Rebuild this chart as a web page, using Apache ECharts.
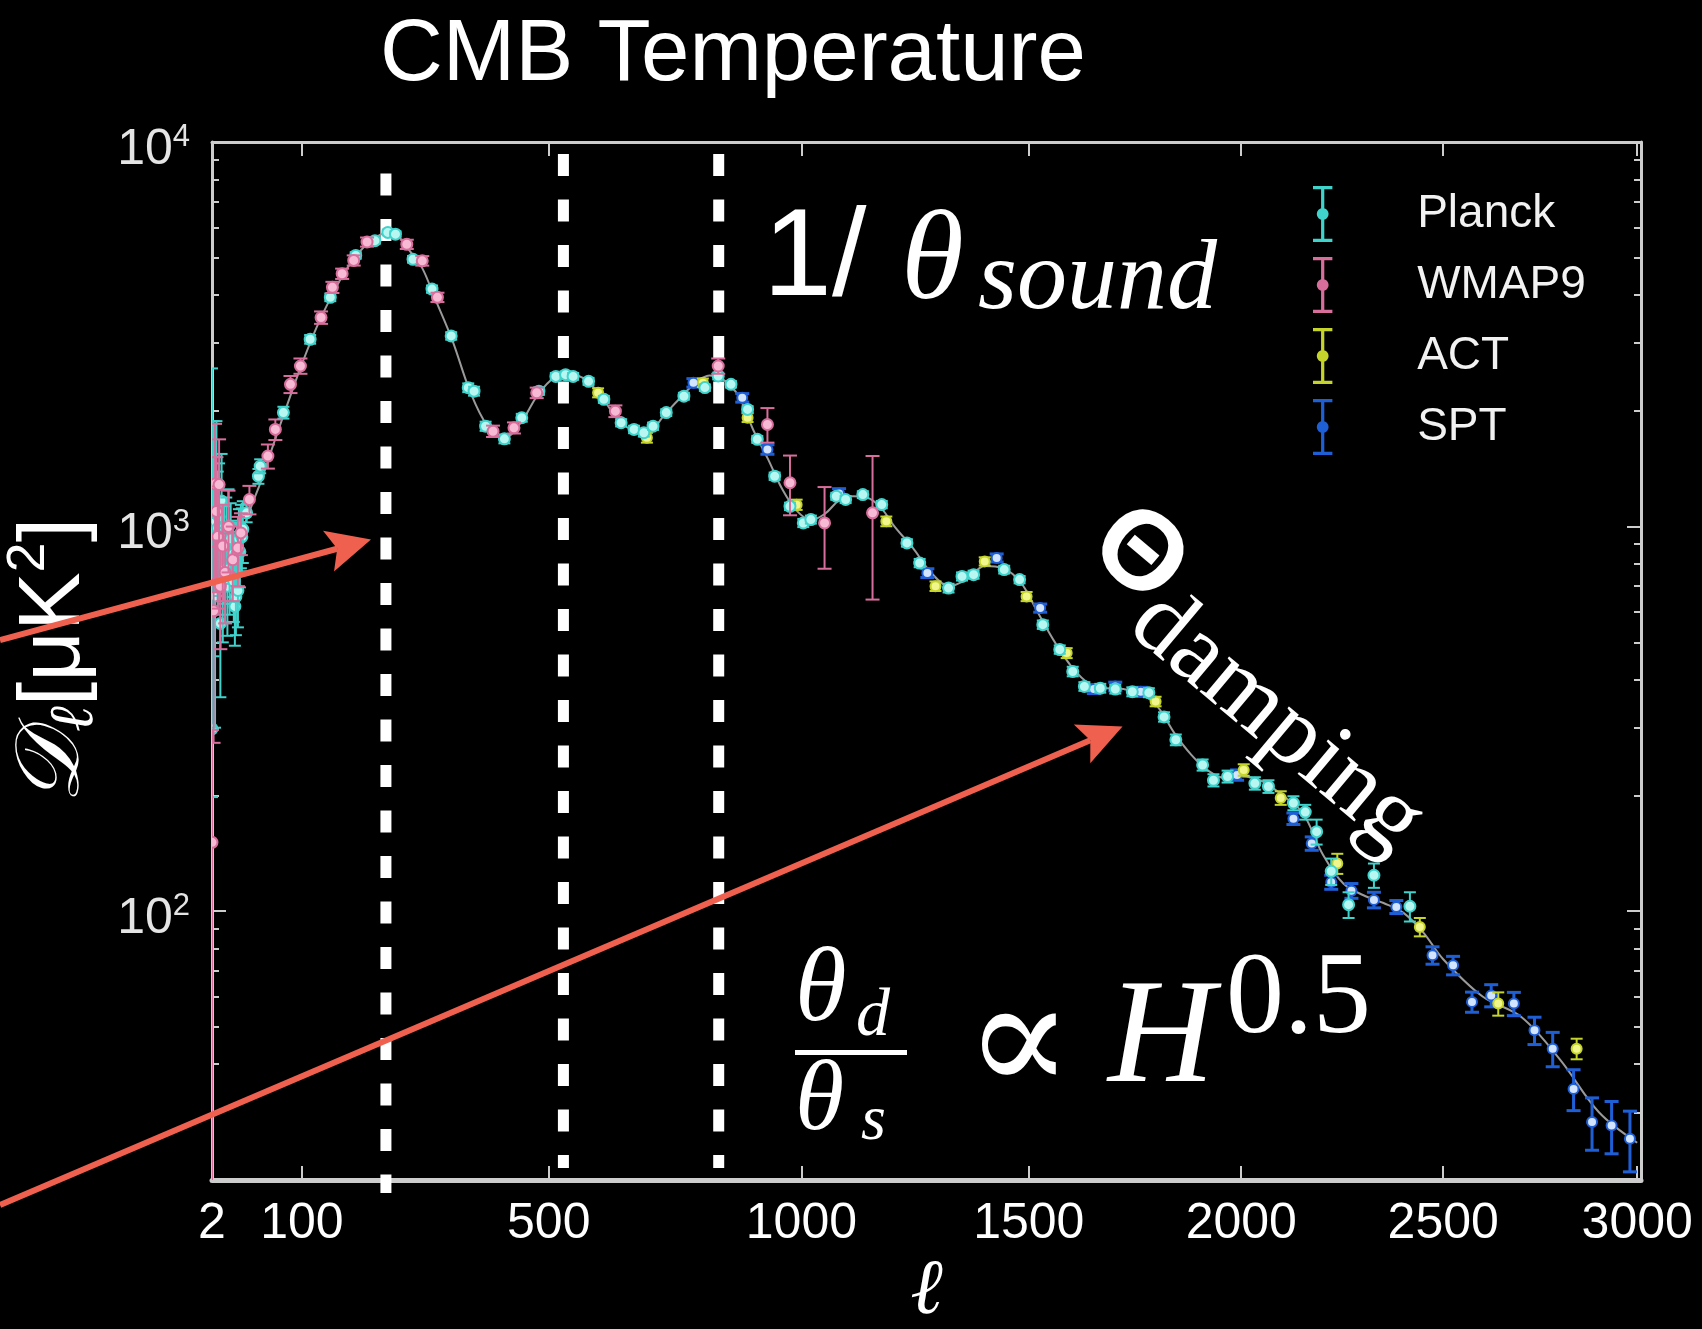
<!DOCTYPE html>
<html>
<head>
<meta charset="utf-8">
<title>CMB Temperature</title>
<script src="https://cdn.jsdelivr.net/npm/echarts@6/dist/echarts.min.js"></script>
<style>
  html, body { margin: 0; padding: 0; background: #000; }
  #chart { width: 1702px; height: 1329px; }
</style>
</head>
<body>
<div id="chart"></div>
<script>
// ---------------------------------------------------------------------------
// Data: multipole ℓ and band power D_ℓ [μK²], with 1σ errors
// ---------------------------------------------------------------------------
const planckEll = [2, 3, 4, 5, 6, 7, 8, 9, 10, 11, 12, 13, 14, 15, 16, 17, 18, 19, 20, 21, 22, 23, 24, 25, 26, 27, 28, 29,
  33, 46, 48, 76, 111, 139, 176, 205, 225, 237, 265, 296, 328, 357, 367, 387, 420, 451, 482, 513, 531, 545, 574, 603, 636,
  661, 680, 698, 724, 759, 801, 828, 854, 888, 908, 944, 976, 1004, 1020, 1074, 1094, 1131, 1172, 1227, 1255, 1319, 1349,
  1375, 1444, 1479, 1532, 1571, 1601, 1628, 1665, 1700, 1740, 1779, 1815, 1843, 1907, 1933, 1967, 2033, 2066, 2127, 2156,
  2184, 2220, 2263, 2326, 2416];
const planckD = [298, 1020, 660, 1290, 990, 1060, 560, 1165, 720, 880, 777, 940, 700, 1000, 780, 930, 820, 846, 720, 620, 657, 850, 682, 930, 860, 959, 940, 984,
  1086, 1352, 1436, 1979, 3069, 3946, 5072, 5540, 5820, 5760, 4955, 4145, 3132, 2297, 2250, 1824, 1691, 1919, 2250, 2458, 2483, 2458, 2386, 2142, 1862,
  1789, 1754, 1824, 1979, 2183, 2298, 2464, 2344, 2017, 1686, 1352, 1129, 1022, 1043, 1199, 1176, 1211, 1141, 907, 804, 692, 742,
  750, 773, 728, 556, 479, 420, 384, 380, 378, 372, 370, 320, 279, 240, 219, 224, 215, 211, 191, 181,
  161, 127, 104, 124, 103];
const planckErrLo = [100, 560, 360, 590, 400, 400, 200, 380, 220, 250, 215, 250, 180, 250, 190, 220, 190, 190, 155, 130, 135, 170, 135, 180, 165, 180, 175, 180,
  60, 60, 60, 70, 80, 90, 100, 100, 100, 100, 100, 90, 70, 60, 60, 50, 45, 45, 50, 50, 50, 50, 50, 45, 40,
  40, 40, 40, 40, 45, 45, 50, 45, 40, 35, 30, 25, 25, 25, 25, 25, 25, 25, 20, 20, 18, 18,
  18, 18, 16, 14, 12, 12, 10, 10, 10, 10, 10, 9, 9, 8, 8, 8, 8, 8, 8, 8,
  12, 10, 8, 9, 9];
const planckErrHi = [2280, 860, 860, 590, 400, 400, 200, 380, 220, 250, 215, 250, 180, 250, 190, 220, 190, 190, 155, 130, 135, 170, 135, 180, 165, 180, 175, 180,
  60, 60, 60, 70, 80, 90, 100, 100, 100, 100, 100, 90, 70, 60, 60, 50, 45, 45, 50, 50, 50, 50, 50, 45, 40,
  40, 40, 40, 40, 45, 45, 50, 45, 40, 35, 30, 25, 25, 25, 25, 25, 25, 25, 20, 20, 18, 18,
  18, 18, 16, 14, 12, 12, 10, 10, 10, 10, 10, 9, 9, 8, 8, 8, 8, 8, 8, 8,
  12, 10, 8, 9, 9];

const wmapEll = [2, 3, 4, 5, 6, 7, 8, 10, 12, 15, 19, 24, 27, 36, 57, 66, 85, 98, 126, 142, 156, 173, 193, 255, 280, 305, 400, 437, 478, 625, 828, 929, 976, 1049, 1152];
const wmapD = [151, 604, 1290, 1095, 942, 1286, 700, 890, 760, 1000, 820, 880, 963, 1176, 1525, 1789, 2344, 2616, 3496, 4189, 4545, 4922, 5495, 5420, 4910, 3946, 1770, 1806, 2228, 1996, 2616, 1843, 1300, 1022, 1086];
const wmapErr = [145, 330, 560, 420, 330, 400, 220, 250, 200, 240, 180, 180, 120, 100, 110, 110, 120, 120, 130, 140, 140, 150, 150, 150, 140, 110, 60, 60, 70, 70, 120, 190, 230, 245, 440];

const actEll = [592, 686, 797, 888, 990, 1182, 1290, 1400, 1495, 1587, 1795, 2006, 2096, 2235, 2441, 2640, 2842];
const actD = [2228, 1703, 2366, 1920, 1140, 1032, 700, 812, 658, 469, 351, 233, 197, 133, 91, 57.5, 43.9];
const actErr = [60, 50, 60, 50, 35, 30, 20, 20, 18, 14, 10, 8, 8, 8, 5, 4, 2.7];

const sptEll = [778, 877, 929, 1080, 1272, 1427, 1526, 1650, 1700, 1760, 1990, 2127, 2172, 2220, 2270, 2326, 2382, 2473, 2525, 2573, 2622, 2680, 2733, 2780, 2834, 2882, 2933, 2981];
const sptD = [2365, 2162, 1587, 1220, 757, 829, 614, 378, 384, 372, 226, 174, 150, 119, 113, 107, 102.6, 76.8, 72.3, 58.1, 60.4, 57.5, 49, 43.9, 34.5, 28.3, 27.7, 25.6];
const sptErr = [60, 55, 45, 35, 20, 20, 15, 10, 10, 10, 7, 6, 6, 5, 5, 5, 4, 4, 4, 3.5, 4, 4, 4, 4.5, 4.2, 4.4, 4.3, 4.6];

// best-fit model spectrum
const theoryEll = [2, 5, 10, 20, 30, 40, 50, 60, 70, 80, 90, 100, 120, 140, 160, 180, 200, 220, 240, 260, 280, 300, 330, 360, 390,
  420, 450, 480, 510, 540, 570, 600, 630, 660, 690, 720, 750, 780, 810, 840, 870, 900, 930, 960, 990, 1020, 1050, 1080, 1110,
  1140, 1170, 1200, 1240, 1280, 1320, 1360, 1400, 1440, 1480, 1520, 1560, 1600, 1640, 1680, 1720, 1760, 1800, 1840, 1880,
  1920, 1960, 2000, 2050, 2100, 2150, 2200, 2250, 2300, 2350, 2400, 2450, 2500, 2600, 2700, 2800, 2900, 3000];
const theoryD = [1020, 900, 820, 860, 1000, 1160, 1330, 1550, 1790, 2050, 2340, 2650, 3300, 3950, 4600, 5150, 5550, 5780, 5700, 5200, 4700, 3950, 3050, 2250, 1830,
  1700, 1870, 2200, 2440, 2490, 2400, 2160, 1900, 1780, 1770, 1950, 2150, 2350, 2470, 2400, 2180, 1780, 1500, 1250, 1100, 1040, 1080, 1170, 1200,
  1190, 1120, 1000, 880, 760, 700, 730, 790, 780, 720, 600, 500, 430, 390, 380, 378, 368, 340, 290, 255,
  232, 222, 224, 218, 200, 180, 140, 118, 110, 105, 99, 88, 75, 60, 53, 41, 30, 25];

// acoustic peak positions marked with dashed verticals
const peakEll = [222, 527, 829];

// axis ranges and ticks
const ELL_RANGE = [2, 3010];
const D_RANGE = [20, 10000];
const xTickEll = [2, 100, 500, 1000, 1500, 2000, 2500, 3000];
const yMajorTicks = [100, 1000, 10000];
const yMinorTicks = [20, 30, 40, 50, 60, 70, 80, 90, 200, 300, 400, 500, 600, 700, 800, 900, 2000, 3000, 4000, 5000, 6000, 7000, 8000, 9000];

// ---------------------------------------------------------------------------
// Scales: ℓ is drawn on an ℓ^0.8 stretch, D_ℓ on log10
// ---------------------------------------------------------------------------
const ELL_POWER = 0.8;
const ellAxis = l => Math.pow(l, ELL_POWER);
const axisEll = v => Math.pow(v, 1 / ELL_POWER);
const lg = d => Math.log10(d);
const X_MIN = ellAxis(ELL_RANGE[0]);
const X_MAX = ellAxis(ELL_RANGE[1]);
const Y_MIN = lg(D_RANGE[0]);
const Y_MAX = lg(D_RANGE[1]);

const SANS = "'Liberation Sans', Arial, Helvetica, sans-serif";
const SERIF = "'Liberation Serif', 'DejaVu Serif', 'Times New Roman', serif";
const AXIS_GREY = '#cccccc';
const ARROW_RED = '#f0604f';

const STYLES = {
  Planck: { color: '#3fd3cc', fill: '#b8f6f2', r: 5.5, ring: 2, bar: 2, cap: 12 },
  WMAP9:  { color: '#d86e9c', fill: '#f6bad4', r: 5.5, ring: 2, bar: 2, cap: 14 },
  ACT:    { color: '#c4d42a', fill: '#f0f68c', r: 5, ring: 2, bar: 2, cap: 12 },
  SPT:    { color: '#1f5fd6', fill: '#d2e4ff', r: 5, ring: 2, bar: 3, cap: 14 }
};

function errorPoints(ells, ds, lo, hi) {
  return ells.map((l, i) => {
    const low = ds[i] - lo[i];
    return [ellAxis(l), lg(ds[i]), low > 0 ? lg(low) : Y_MIN - 1, lg(ds[i] + hi[i])];
  });
}

function errorBarRenderer(st) {
  return function (params, api) {
    const x = api.value(0);
    const rawLo = api.value(2), rawHi = api.value(3);
    const c = api.coord([x, api.value(1)]);
    const lo = api.coord([x, Math.max(rawLo, Y_MIN)]);
    const hi = api.coord([x, Math.min(rawHi, Y_MAX)]);
    const h = st.cap / 2;
    const children = [
      { type: 'line', shape: { x1: c[0], y1: lo[1], x2: c[0], y2: hi[1] }, style: { stroke: st.color, lineWidth: st.bar } }
    ];
    if (rawLo >= Y_MIN) {
      children.push({ type: 'line', shape: { x1: c[0] - h, y1: lo[1], x2: c[0] + h, y2: lo[1] }, style: { stroke: st.color, lineWidth: st.bar } });
    }
    if (rawHi <= Y_MAX) {
      children.push({ type: 'line', shape: { x1: c[0] - h, y1: hi[1], x2: c[0] + h, y2: hi[1] }, style: { stroke: st.color, lineWidth: st.bar } });
    }
    children.push({ type: 'circle', shape: { cx: c[0], cy: c[1], r: st.r }, style: { fill: st.fill, stroke: st.color, lineWidth: st.ring } });
    return { type: 'group', children };
  };
}

function dataSeries(name, points, z) {
  return {
    name, type: 'custom', coordinateSystem: 'cartesian2d', z,
    itemStyle: { color: STYLES[name].color },
    encode: { x: 0, y: 1 },
    renderItem: errorBarRenderer(STYLES[name]),
    data: points,
    clip: true
  };
}

// dashed peak markers: the first one runs a little past the bottom axis
const peakSpans = [[8281, 18.5], [9311, 21.5], [9311, 21.5]];
const peakSeries = peakEll.map((l, i) => ({
  type: 'line', z: 1, silent: true, clip: false, symbol: 'none', animation: false,
  lineStyle: { color: '#ffffff', width: 11, type: [22, 23.5], cap: 'butt' },
  data: [[ellAxis(l), lg(peakSpans[i][0])], [ellAxis(l), lg(peakSpans[i][1])]]
}));

const LEGEND_ICON = 'path://M0,0H18V3H0Z M7.5,0H10.5V52H7.5Z M0,49H18V52H0Z M9,20.5A5.5,5.5 0 1 1 8.99,20.5Z';

function xAxisCfg(position, withLabels) {
  return {
    type: 'value', position, min: X_MIN, max: X_MAX, gridIndex: 0,
    axisLine: { show: true, onZero: false, lineStyle: { color: AXIS_GREY, width: position === 'bottom' ? 5 : 3 } },
    axisTick: { show: true, inside: true, length: 14, customValues: xTickEll.map(ellAxis), lineStyle: { color: AXIS_GREY, width: 2 } },
    axisLabel: withLabels ? {
      show: true, customValues: xTickEll.map(ellAxis),
      formatter: v => String(Math.round(axisEll(v))),
      color: '#ffffff', fontSize: 50, fontFamily: SANS, margin: 19
    } : { show: false },
    splitLine: { show: false },
    name: withLabels ? 'ℓ' : '', nameLocation: 'middle', nameGap: 65,
    nameTextStyle: { color: '#ffffff', fontSize: 78, fontStyle: 'italic', fontFamily: SERIF }
  };
}

function yAxisCfg(position, major, withLabels) {
  const cfg = {
    type: 'value', position, min: Y_MIN, max: Y_MAX, gridIndex: 0,
    axisLine: { show: major, onZero: false, lineStyle: { color: AXIS_GREY, width: 3 } },
    axisTick: { show: true, inside: true, length: major ? 14 : 7, customValues: (major ? yMajorTicks : yMinorTicks).map(lg), lineStyle: { color: AXIS_GREY, width: 2 } },
    axisLabel: { show: false },
    splitLine: { show: false }
  };
  if (withLabels) {
    cfg.axisLabel = {
      show: true, customValues: yMajorTicks.map(lg), margin: 22,
      padding: [16, 0, 0, 0],
      formatter: v => '{b|10}{s|' + Math.round(v) + '}',
      rich: {
        b: { fontSize: 50, fontFamily: SANS, color: '#e4e4e4', lineHeight: 56 },
        s: { fontSize: 31, fontFamily: SANS, color: '#e4e4e4', lineHeight: 30, verticalAlign: 'top' }
      }
    };
    cfg.name = '{d|𝒟}{l|ℓ}{u|[μK}{p|2}{u|]}';
    cfg.nameLocation = 'middle';
    cfg.nameRotate = 90;
    cfg.nameGap = 77;
    cfg.nameTextStyle = {
      color: '#ffffff',
      rich: {
        d: { fontSize: 90, fontFamily: SERIF, fontStyle: 'italic', color: '#ffffff', lineHeight: 104 },
        l: { fontSize: 62, fontFamily: SERIF, fontStyle: 'italic', color: '#ffffff', lineHeight: 54, verticalAlign: 'bottom' },
        u: { fontSize: 88, fontFamily: SANS, color: '#ffffff', lineHeight: 104 },
        p: { fontSize: 54, fontFamily: SANS, color: '#ffffff', lineHeight: 54, verticalAlign: 'top' }
      }
    };
  }
  return cfg;
}

const chart = echarts.init(document.getElementById('chart'), null, { renderer: 'canvas' });

const option = {
  backgroundColor: '#000000',
  animation: false,
  title: {
    text: 'CMB Temperature', left: 375, top: 8,
    textStyle: { color: '#ffffff', fontSize: 87, fontWeight: 'normal', fontFamily: SANS }
  },
  grid: { left: 212, right: 61, top: 142, bottom: 149, containLabel: false, outerBoundsMode: 'none' },
  xAxis: [xAxisCfg('bottom', true), xAxisCfg('top', false)],
  yAxis: [
    yAxisCfg('left', true, true),
    yAxisCfg('left', false, false),
    yAxisCfg('right', true, false),
    yAxisCfg('right', false, false)
  ],
  legend: {
    data: ['Planck', 'WMAP9', 'ACT', 'SPT'],
    orient: 'vertical', left: 1308, top: 181,
    itemWidth: 179, itemHeight: 56, itemGap: 15,
    icon: LEGEND_ICON, selectedMode: false,
    textStyle: { color: '#f2f2f2', fontSize: 46, fontFamily: SANS }
  },
  series: [
    ...peakSeries,
    {
      type: 'line', z: 2, silent: true, symbol: 'none', smooth: 0.35,
      lineStyle: { color: '#9a9a9a', width: 2 },
      data: theoryEll.map((l, i) => [ellAxis(l), lg(theoryD[i])])
    },
    dataSeries('SPT', errorPoints(sptEll, sptD, sptErr, sptErr), 3),
    dataSeries('ACT', errorPoints(actEll, actD, actErr, actErr), 3),
    dataSeries('Planck', errorPoints(planckEll, planckD, planckErrLo, planckErrHi), 3),
    dataSeries('WMAP9', errorPoints(wmapEll, wmapD, wmapErr, wmapErr), 3)
  ]
};
chart.setOption(option);

// ---------------------------------------------------------------------------
// Annotations: arrows pointing at the first peak and the damping tail
// ---------------------------------------------------------------------------
const toPx = (l, d) => chart.convertToPixel({ xAxisIndex: 0, yAxisIndex: 0 }, [ellAxis(l), lg(d)]);
const arrowTargets = [
  { tail: [0, 640], tipEll: 199, tipD: 925 },
  { tail: [0, 1205], tipEll: 1717, tipD: 302 }
];
const HEAD_LEN = 44, HEAD_HALF = 21, HEAD_NOTCH = 9;

function arrow(tail, tip) {
  const dx = tip[0] - tail[0], dy = tip[1] - tail[1];
  const len = Math.hypot(dx, dy);
  const ux = dx / len, uy = dy / len;
  const bx = tip[0] - ux * HEAD_LEN, by = tip[1] - uy * HEAD_LEN;
  const nx = bx + ux * HEAD_NOTCH, ny = by + uy * HEAD_NOTCH;
  return [
    { type: 'line', z: 10, shape: { x1: tail[0], y1: tail[1], x2: nx, y2: ny }, style: { stroke: ARROW_RED, lineWidth: 6 } },
    { type: 'polygon', z: 10, shape: { points: [tip, [bx - uy * HEAD_HALF, by + ux * HEAD_HALF], [nx, ny], [bx + uy * HEAD_HALF, by - ux * HEAD_HALF]] }, style: { fill: ARROW_RED } }
  ];
}

const txt = (x, y, text, size, family, extra) => Object.assign({
  type: 'text', x, y, z: 10,
  style: Object.assign({ text, fill: '#ffffff', fontSize: size, fontFamily: family, align: 'left', verticalAlign: 'middle' }, extra || {})
});

const elements = [];
arrowTargets.forEach(a => elements.push(...arrow(a.tail, toPx(a.tipEll, a.tipD))));

// 1/θ_sound
elements.push(txt(763, 261, '1/', 124, SANS));
elements.push(txt(901, 264, 'θ', 128, SERIF, { fontStyle: 'italic' }));
elements.push(txt(978, 282, 'sound', 100, SERIF, { fontStyle: 'italic' }));

// Θ_damping, written along the damping tail
elements.push({
  type: 'group', x: 1138, y: 556, rotation: -40 * Math.PI / 180, z: 10,
  children: [
    { type: 'text', x: 0, y: 0, style: { text: 'Θ', fill: '#ffffff', fontSize: 112, fontWeight: 'bold', fontFamily: SANS, align: 'center', verticalAlign: 'middle' } },
    { type: 'text', x: 38, y: 38, style: { text: 'damping', fill: '#ffffff', fontSize: 100, fontFamily: SERIF, align: 'left', verticalAlign: 'middle' } }
  ]
});

// θ_d / θ_s ∝ H^0.5
elements.push(txt(795, 992, 'θ', 105, SERIF, { fontStyle: 'italic' }));
elements.push(txt(856, 1017, 'd', 68, SERIF, { fontStyle: 'italic' }));
elements.push({ type: 'rect', z: 10, shape: { x: 795, y: 1050, width: 112, height: 5 }, style: { fill: '#ffffff' } });
elements.push(txt(795, 1103, 'θ', 100, SERIF, { fontStyle: 'italic' }));
elements.push(txt(861, 1122, 's', 64, SERIF, { fontStyle: 'italic' }));
elements.push(txt(1019, 1050, '∝', 160, SERIF, { align: 'center' }));
elements.push(txt(1108, 1042, 'H', 148, SERIF, { fontStyle: 'italic' }));
elements.push(txt(1226, 1002, '0.5', 116, SERIF));

chart.setOption({ graphic: { elements } });
</script>
</body>
</html>
